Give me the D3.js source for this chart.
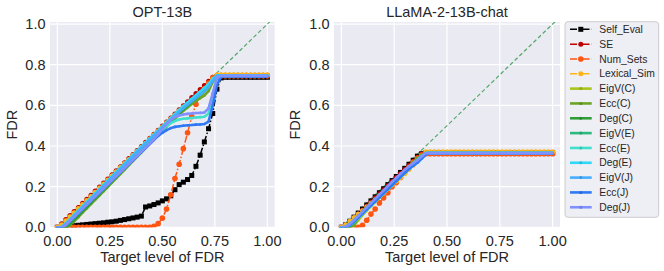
<!DOCTYPE html>
<meta charset='utf-8'>
<title>FDR vs target level of FDR</title>
<style>
html, body {
  margin: 0;
  padding: 0;
  background: #fff;
}
text {
  font-family: 'Liberation Sans', Arial, sans-serif;
  fill: #262626;
}
</style>
<script src='https://d3js.org/d3.v7.min.js'></script>
<body>
<svg id='chart' width='664' height='271'></svg>
<script>
// Target FDR levels (shared x values of every curve)
var levels = [0,0.02,0.04,0.06,0.08,0.1,0.12,0.14,0.16,0.18,
  0.2,0.22,0.24,0.26,0.28,0.3,0.32,0.34,0.36,0.38,
  0.4,0.42,0.44,0.46,0.48,0.5,0.52,0.54,0.56,0.58,
  0.6,0.62,0.64,0.66,0.68,0.7,0.72,0.74,0.76,0.78,
  0.8,0.82,0.84,0.86,0.88,0.9,0.92,0.94,0.96,0.98,
  1.0];
var xTicks = [0, 0.25, 0.5, 0.75, 1.0];
var yTicks = [0, 0.2, 0.4, 0.6, 0.8, 1.0];
var methods = ['Self_Eval', 'SE', 'Num_Sets', 'Lexical_Sim', 'EigV(C)', 'Ecc(C)', 'Deg(C)',
  'EigV(E)', 'Ecc(E)', 'Deg(E)', 'EigV(J)', 'Ecc(J)', 'Deg(J)'];
var panelTitles = ['OPT-13B', 'LLaMA-2-13B-chat'];

// ---- OPT-13B ----
var optSelfEval = [0,0.002,0.004,0.006,0.008,0.01,0.012,0.014,0.016,0.018,
  0.02,0.022,0.025,0.027,0.03,0.034,0.038,0.042,0.046,0.05,
  0.055,0.1,0.105,0.112,0.12,0.13,0.14,0.155,0.185,0.21,
  0.222,0.235,0.255,0.3,0.355,0.42,0.485,0.56,0.68,0.735,
  0.738,0.738,0.738,0.738,0.738,0.738,0.738,0.738,0.738,0.738,
  0.738];
var optSE = [0,0.018,0.038,0.058,0.078,0.098,0.118,0.138,0.158,0.178,
  0.198,0.218,0.238,0.258,0.278,0.298,0.318,0.338,0.358,0.378,
  0.398,0.418,0.438,0.458,0.478,0.498,0.518,0.538,0.558,0.578,
  0.598,0.618,0.638,0.658,0.678,0.698,0.718,0.738,0.748,0.748,
  0.748,0.748,0.748,0.748,0.748,0.748,0.748,0.748,0.748,0.748,
  0.748];
var optNumSets = [0,0,0,0,0,0,0,0,0,0,
  0,0,0,0,0,0,0,0,0,0,
  0,0,0,0.005,0.018,0.045,0.09,0.16,0.24,0.31,
  0.387,0.465,0.545,0.605,0.65,0.68,0.71,0.735,0.745,0.745,
  0.745,0.745,0.745,0.745,0.745,0.745,0.745,0.745,0.745,0.745,
  0.745];
var optLexicalSim = [0,0.012,0.032,0.052,0.072,0.092,0.112,0.132,0.152,0.172,
  0.193,0.213,0.233,0.253,0.273,0.294,0.314,0.334,0.354,0.374,
  0.394,0.414,0.434,0.454,0.474,0.494,0.514,0.534,0.553,0.573,
  0.592,0.605,0.622,0.64,0.66,0.68,0.7,0.728,0.75,0.75,
  0.75,0.75,0.75,0.75,0.75,0.75,0.75,0.75,0.75,0.75,
  0.75];
var optEigVC = [0,0,0.002,0.02,0.042,0.062,0.083,0.103,0.124,0.145,
  0.165,0.186,0.207,0.228,0.249,0.27,0.291,0.312,0.333,0.354,
  0.375,0.396,0.417,0.438,0.459,0.48,0.5,0.52,0.54,0.56,
  0.58,0.6,0.615,0.63,0.645,0.665,0.69,0.72,0.745,0.745,
  0.745,0.745,0.745,0.745,0.745,0.745,0.745,0.745,0.745,0.745,
  0.745];
var optEccC = [0,0,0,0.01,0.03,0.05,0.072,0.093,0.114,0.135,
  0.156,0.177,0.198,0.22,0.241,0.262,0.283,0.305,0.326,0.347,
  0.368,0.39,0.41,0.432,0.453,0.474,0.495,0.515,0.535,0.555,
  0.573,0.59,0.607,0.622,0.635,0.648,0.67,0.715,0.745,0.745,
  0.745,0.745,0.745,0.745,0.745,0.745,0.745,0.745,0.745,0.745,
  0.745];
var optDegC = [0,0,0.001,0.016,0.037,0.058,0.079,0.1,0.121,0.142,
  0.163,0.184,0.205,0.226,0.247,0.268,0.289,0.31,0.331,0.352,
  0.373,0.394,0.415,0.436,0.457,0.478,0.499,0.52,0.54,0.56,
  0.58,0.598,0.616,0.634,0.652,0.67,0.695,0.725,0.745,0.745,
  0.745,0.745,0.745,0.745,0.745,0.745,0.745,0.745,0.745,0.745,
  0.745];
var optEigVE = [0,0,0.01,0.03,0.05,0.07,0.091,0.112,0.133,0.154,
  0.175,0.196,0.217,0.238,0.259,0.28,0.301,0.322,0.343,0.364,
  0.385,0.406,0.427,0.448,0.469,0.49,0.51,0.53,0.55,0.57,
  0.59,0.608,0.626,0.644,0.662,0.68,0.703,0.73,0.745,0.745,
  0.745,0.745,0.745,0.745,0.745,0.745,0.745,0.745,0.745,0.745,
  0.745];
var optEccE = [0,0,0.012,0.032,0.052,0.072,0.092,0.112,0.132,0.152,
  0.172,0.192,0.212,0.232,0.252,0.272,0.292,0.312,0.332,0.352,
  0.372,0.392,0.412,0.432,0.455,0.478,0.498,0.513,0.523,0.53,
  0.534,0.536,0.538,0.54,0.542,0.544,0.56,0.65,0.735,0.745,
  0.745,0.745,0.745,0.745,0.745,0.745,0.745,0.745,0.745,0.745,
  0.745];
var optDegE = [0,0.003,0.02,0.04,0.062,0.083,0.104,0.125,0.146,0.167,
  0.188,0.209,0.23,0.251,0.272,0.293,0.314,0.335,0.356,0.377,
  0.397,0.417,0.437,0.457,0.477,0.497,0.517,0.537,0.557,0.577,
  0.596,0.614,0.632,0.65,0.668,0.686,0.706,0.73,0.748,0.748,
  0.748,0.748,0.748,0.748,0.748,0.748,0.748,0.748,0.748,0.748,
  0.748];
var optEigVJ = [0,0,0.015,0.035,0.056,0.077,0.098,0.119,0.14,0.161,
  0.182,0.203,0.224,0.245,0.266,0.287,0.308,0.329,0.35,0.371,
  0.392,0.412,0.432,0.452,0.472,0.492,0.511,0.53,0.549,0.568,
  0.586,0.603,0.62,0.636,0.652,0.668,0.69,0.72,0.745,0.745,
  0.745,0.745,0.745,0.745,0.745,0.745,0.745,0.745,0.745,0.745,
  0.745];
var optEccJ = [0,0,0.01,0.03,0.05,0.07,0.09,0.11,0.13,0.15,
  0.17,0.19,0.21,0.23,0.25,0.27,0.29,0.31,0.33,0.35,
  0.37,0.39,0.41,0.43,0.45,0.465,0.478,0.488,0.494,0.497,
  0.5,0.502,0.503,0.505,0.506,0.508,0.52,0.6,0.7,0.742,
  0.742,0.742,0.742,0.742,0.742,0.742,0.742,0.742,0.742,0.742,
  0.742];
var optDegJ = [0,0,0.012,0.032,0.052,0.072,0.092,0.112,0.132,0.152,
  0.172,0.192,0.212,0.232,0.252,0.272,0.292,0.312,0.332,0.352,
  0.372,0.392,0.412,0.434,0.458,0.484,0.508,0.528,0.542,0.55,
  0.555,0.558,0.56,0.562,0.563,0.565,0.585,0.66,0.735,0.745,
  0.745,0.745,0.745,0.745,0.745,0.745,0.745,0.745,0.745,0.745,
  0.745];

// ---- LLaMA-2-13B-chat ----
var llamaSelfEval = [0,0.012,0.03,0.05,0.07,0.09,0.11,0.13,0.15,0.17,
  0.19,0.21,0.23,0.25,0.27,0.29,0.31,0.33,0.35,0.362,
  0.366,0.366,0.366,0.366,0.366,0.366,0.366,0.366,0.366,0.366,
  0.366,0.366,0.366,0.366,0.366,0.366,0.366,0.366,0.366,0.366,
  0.366,0.366,0.366,0.366,0.366,0.366,0.366,0.366,0.366,0.366,
  0.366];
var llamaSE = [0,0.008,0.025,0.045,0.065,0.085,0.105,0.125,0.145,0.165,
  0.185,0.205,0.225,0.245,0.265,0.285,0.305,0.325,0.345,0.36,
  0.368,0.368,0.368,0.368,0.368,0.368,0.368,0.368,0.368,0.368,
  0.368,0.368,0.368,0.368,0.368,0.368,0.368,0.368,0.368,0.368,
  0.368,0.368,0.368,0.368,0.368,0.368,0.368,0.368,0.368,0.368,
  0.368];
var llamaNumSets = [0,0,0,0,0,0.01,0.035,0.065,0.09,0.12,
  0.145,0.17,0.2,0.22,0.245,0.27,0.295,0.32,0.34,0.355,
  0.362,0.362,0.362,0.362,0.362,0.362,0.362,0.362,0.362,0.362,
  0.362,0.362,0.362,0.362,0.362,0.362,0.362,0.362,0.362,0.362,
  0.362,0.362,0.362,0.362,0.362,0.362,0.362,0.362,0.362,0.362,
  0.362];
var llamaLexicalSim = [0,0.012,0.03,0.048,0.065,0.082,0.1,0.118,0.136,0.154,
  0.172,0.19,0.208,0.226,0.245,0.264,0.284,0.305,0.327,0.35,
  0.372,0.372,0.372,0.372,0.372,0.372,0.372,0.372,0.372,0.372,
  0.372,0.372,0.372,0.372,0.372,0.372,0.372,0.372,0.372,0.372,
  0.372,0.372,0.372,0.372,0.372,0.372,0.372,0.372,0.372,0.372,
  0.372];
var llamaEigVC = [0,0,0,0.01,0.035,0.06,0.082,0.103,0.124,0.145,
  0.166,0.187,0.208,0.229,0.25,0.27,0.29,0.31,0.33,0.35,
  0.365,0.365,0.365,0.365,0.365,0.365,0.365,0.365,0.365,0.365,
  0.365,0.365,0.365,0.365,0.365,0.365,0.365,0.365,0.365,0.365,
  0.365,0.365,0.365,0.365,0.365,0.365,0.365,0.365,0.365,0.365,
  0.365];
var llamaEccC = [0,0,0,0.01,0.045,0.08,0.1,0.12,0.14,0.16,
  0.18,0.2,0.22,0.24,0.26,0.28,0.3,0.32,0.34,0.355,
  0.365,0.365,0.365,0.365,0.365,0.365,0.365,0.365,0.365,0.365,
  0.365,0.365,0.365,0.365,0.365,0.365,0.365,0.365,0.365,0.365,
  0.365,0.365,0.365,0.365,0.365,0.365,0.365,0.365,0.365,0.365,
  0.365];
var llamaDegC = [0,0,0.005,0.025,0.048,0.07,0.09,0.11,0.13,0.15,
  0.17,0.19,0.21,0.23,0.25,0.27,0.29,0.31,0.33,0.35,
  0.364,0.364,0.364,0.364,0.364,0.364,0.364,0.364,0.364,0.364,
  0.364,0.364,0.364,0.364,0.364,0.364,0.364,0.364,0.364,0.364,
  0.364,0.364,0.364,0.364,0.364,0.364,0.364,0.364,0.364,0.364,
  0.364];
var llamaEigVE = [0,0,0.01,0.03,0.05,0.07,0.09,0.11,0.13,0.15,
  0.17,0.19,0.21,0.23,0.25,0.27,0.29,0.31,0.33,0.35,
  0.365,0.365,0.365,0.365,0.365,0.365,0.365,0.365,0.365,0.365,
  0.365,0.365,0.365,0.365,0.365,0.365,0.365,0.365,0.365,0.365,
  0.365,0.365,0.365,0.365,0.365,0.365,0.365,0.365,0.365,0.365,
  0.365];
var llamaEccE = [0,0,0.008,0.026,0.046,0.066,0.086,0.106,0.126,0.146,
  0.166,0.186,0.206,0.226,0.246,0.266,0.286,0.305,0.322,0.342,
  0.362,0.364,0.364,0.364,0.364,0.364,0.364,0.364,0.364,0.364,
  0.364,0.364,0.364,0.364,0.364,0.364,0.364,0.364,0.364,0.364,
  0.364,0.364,0.364,0.364,0.364,0.364,0.364,0.364,0.364,0.364,
  0.364];
var llamaDegE = [0,0.003,0.018,0.036,0.056,0.076,0.096,0.116,0.136,0.156,
  0.176,0.196,0.216,0.236,0.256,0.276,0.296,0.315,0.332,0.35,
  0.366,0.366,0.366,0.366,0.366,0.366,0.366,0.366,0.366,0.366,
  0.366,0.366,0.366,0.366,0.366,0.366,0.366,0.366,0.366,0.366,
  0.366,0.366,0.366,0.366,0.366,0.366,0.366,0.366,0.366,0.366,
  0.366];
var llamaEigVJ = [0,0,0.012,0.03,0.05,0.07,0.09,0.11,0.13,0.15,
  0.17,0.19,0.21,0.23,0.25,0.27,0.288,0.305,0.32,0.34,
  0.36,0.365,0.365,0.365,0.365,0.365,0.365,0.365,0.365,0.365,
  0.365,0.365,0.365,0.365,0.365,0.365,0.365,0.365,0.365,0.365,
  0.365,0.365,0.365,0.365,0.365,0.365,0.365,0.365,0.365,0.365,
  0.365];
var llamaEccJ = [0,0,0.01,0.028,0.048,0.068,0.088,0.108,0.128,0.148,
  0.168,0.188,0.208,0.228,0.248,0.268,0.287,0.303,0.318,0.338,
  0.358,0.364,0.364,0.364,0.364,0.364,0.364,0.364,0.364,0.364,
  0.364,0.364,0.364,0.364,0.364,0.364,0.364,0.364,0.364,0.364,
  0.364,0.364,0.364,0.364,0.364,0.364,0.364,0.364,0.364,0.364,
  0.364];
var llamaDegJ = [0,0.002,0.016,0.035,0.056,0.077,0.098,0.119,0.14,0.161,
  0.182,0.203,0.224,0.244,0.264,0.283,0.3,0.315,0.33,0.348,
  0.365,0.365,0.365,0.365,0.365,0.365,0.365,0.365,0.365,0.365,
  0.365,0.365,0.365,0.365,0.365,0.365,0.365,0.365,0.365,0.365,
  0.365,0.365,0.365,0.365,0.365,0.365,0.365,0.365,0.365,0.365,
  0.365];

// Look of each method, same order as methods
var dashDot = '7,2,1.5,2';
var styles = [
  {color: '#000000', dash: dashDot, width: 1.5, marker: 'square', size: 5},
  {color: '#c00000', dash: dashDot, width: 1.5, marker: 'circle', size: 2.5},
  {color: '#ff5511', dash: dashDot, width: 1.5, marker: 'circle', size: 2.8},
  {color: '#ffb31a', dash: dashDot, width: 1.5, marker: 'circle', size: 2.5},
  {color: '#a9c41c', dash: null, width: 2.6, marker: 'dot', size: 1.3},
  {color: '#6ba426', dash: null, width: 2.6, marker: 'dot', size: 1.3},
  {color: '#2f9e38', dash: null, width: 2.6, marker: 'dot', size: 1.3},
  {color: '#2db87e', dash: null, width: 2.6, marker: 'dot', size: 1.3},
  {color: '#40e0cc', dash: null, width: 2.6, marker: 'dot', size: 1.3},
  {color: '#2fd8f6', dash: null, width: 2.6, marker: 'dot', size: 1.3},
  {color: '#46aefc', dash: null, width: 2.6, marker: 'dot', size: 1.3},
  {color: '#2f78f5', dash: null, width: 2.6, marker: 'dot', size: 1.3},
  {color: '#8090ff', dash: null, width: 2.6, marker: 'dot', size: 1.3}
];

var panels = [
  {title: panelTitles[0], left: 50, right: 274.7, ylabelX: 17,
   series: [optSelfEval, optSE, optNumSets, optLexicalSim, optEigVC, optEccC, optDegC,
            optEigVE, optEccE, optDegE, optEigVJ, optEccJ, optDegJ]},
  {title: panelTitles[1], left: 334, right: 560, ylabelX: 300,
   series: [llamaSelfEval, llamaSE, llamaNumSets, llamaLexicalSim, llamaEigVC, llamaEccC, llamaDegC,
            llamaEigVE, llamaEccE, llamaDegE, llamaEigVJ, llamaEccJ, llamaDegJ]}
];

var plotTop = 22, plotBottom = 227.3;
var svg = d3.select('#chart');

function drawMarker(sel, st, cx, cy) {
  if (st.marker === 'square') {
    sel.append('rect')
      .attr('x', cx - st.size / 2).attr('y', cy - st.size / 2)
      .attr('width', st.size).attr('height', st.size)
      .attr('fill', st.color);
  } else {
    sel.append('circle')
      .attr('cx', cx).attr('cy', cy).attr('r', st.size)
      .attr('fill', st.color);
  }
}

panels.forEach(function (p, pi) {
  var x = d3.scaleLinear().domain([-0.035, 1.035]).range([p.left, p.right]);
  var y = d3.scaleLinear().domain([0, 1.01]).range([plotBottom, plotTop]);
  var g = svg.append('g');

  // background + grid (seaborn darkgrid)
  g.append('rect')
    .attr('x', p.left).attr('y', plotTop)
    .attr('width', p.right - p.left).attr('height', plotBottom - plotTop)
    .attr('fill', '#eaeaf2');
  g.selectAll('.gx').data(xTicks).enter().append('line')
    .attr('x1', function (d) { return x(d); }).attr('x2', function (d) { return x(d); })
    .attr('y1', plotTop).attr('y2', plotBottom)
    .attr('stroke', '#fff').attr('stroke-width', 1.2);
  g.selectAll('.gy').data(yTicks).enter().append('line')
    .attr('y1', function (d) { return y(d); }).attr('y2', function (d) { return y(d); })
    .attr('x1', p.left).attr('x2', p.right)
    .attr('stroke', '#fff').attr('stroke-width', 1.2);

  var clipId = 'clip' + pi;
  svg.append('clipPath').attr('id', clipId).append('rect')
    .attr('x', p.left).attr('y', plotTop)
    .attr('width', p.right - p.left).attr('height', plotBottom - plotTop);
  var plot = g.append('g').attr('clip-path', 'url(#' + clipId + ')');

  // y = x reference
  plot.append('line')
    .attr('x1', x(0)).attr('y1', y(0)).attr('x2', x(1.05)).attr('y2', y(1.05))
    .attr('stroke', '#55a868').attr('stroke-width', 1.2)
    .attr('stroke-dasharray', '4,2.5');

  var line = d3.line()
    .x(function (d, i) { return x(levels[i]); })
    .y(function (d) { return y(d); });

  p.series.forEach(function (vals, si) {
    var st = styles[si];
    var s = plot.append('g');
    s.append('path')
      .attr('d', line(vals))
      .attr('fill', 'none')
      .attr('stroke', st.color)
      .attr('stroke-width', st.width)
      .attr('stroke-dasharray', st.dash);
    vals.forEach(function (v, i) {
      drawMarker(s, st, x(levels[i]), y(v));
    });
  });

  // tick labels
  g.selectAll('.tx').data(xTicks).enter().append('text')
    .attr('x', function (d) { return x(d); }).attr('y', 245.5)
    .attr('text-anchor', 'middle').style('font-size', '14.5px')
    .text(function (d) { return d3.format('.2f')(d); });
  g.selectAll('.ty').data(yTicks).enter().append('text')
    .attr('x', p.left - 4.5).attr('y', function (d) { return y(d) + 5; })
    .attr('text-anchor', 'end').style('font-size', '14.5px')
    .text(function (d) { return d3.format('.1f')(d); });

  // labels
  g.append('text')
    .attr('x', (p.left + p.right) / 2).attr('y', 16.7)
    .attr('text-anchor', 'middle').style('font-size', '14.5px')
    .text(p.title);
  g.append('text')
    .attr('x', (p.left + p.right) / 2).attr('y', 261.5)
    .attr('text-anchor', 'middle').style('font-size', '14.5px')
    .text('Target level of FDR');
  g.append('text')
    .attr('transform', 'translate(' + p.ylabelX + ',' + ((plotTop + plotBottom) / 2) + ')rotate(-90)')
    .attr('text-anchor', 'middle').style('font-size', '14.5px')
    .text('FDR');
});

// Legend
var legend = svg.append('g');
legend.append('rect')
  .attr('x', 565).attr('y', 21.7).attr('width', 93.7).attr('height', 195.6)
  .attr('rx', 3).attr('ry', 3)
  .attr('fill', '#eeeef5').attr('stroke', '#cccccc').attr('stroke-width', 1);

methods.forEach(function (m, i) {
  var st = styles[i];
  var cy = 29.3 + i * 14.83;
  var row = legend.append('g');
  row.append('line')
    .attr('x1', 570).attr('x2', 591.7).attr('y1', cy).attr('y2', cy)
    .attr('stroke', st.color).attr('stroke-width', st.width)
    .attr('stroke-dasharray', st.dash);
  if (st.marker === 'dot') {
    row.append('circle').attr('cx', 580.8).attr('cy', cy).attr('r', 1.5)
      .attr('fill', d3.color(st.color).darker(0.4));
  } else {
    drawMarker(row, st, 580.8, cy);
  }
  row.append('text')
    .attr('x', 599.3).attr('y', cy + 3.7)
    .style('font-size', '10.3px')
    .text(m);
});
</script>
</body>
